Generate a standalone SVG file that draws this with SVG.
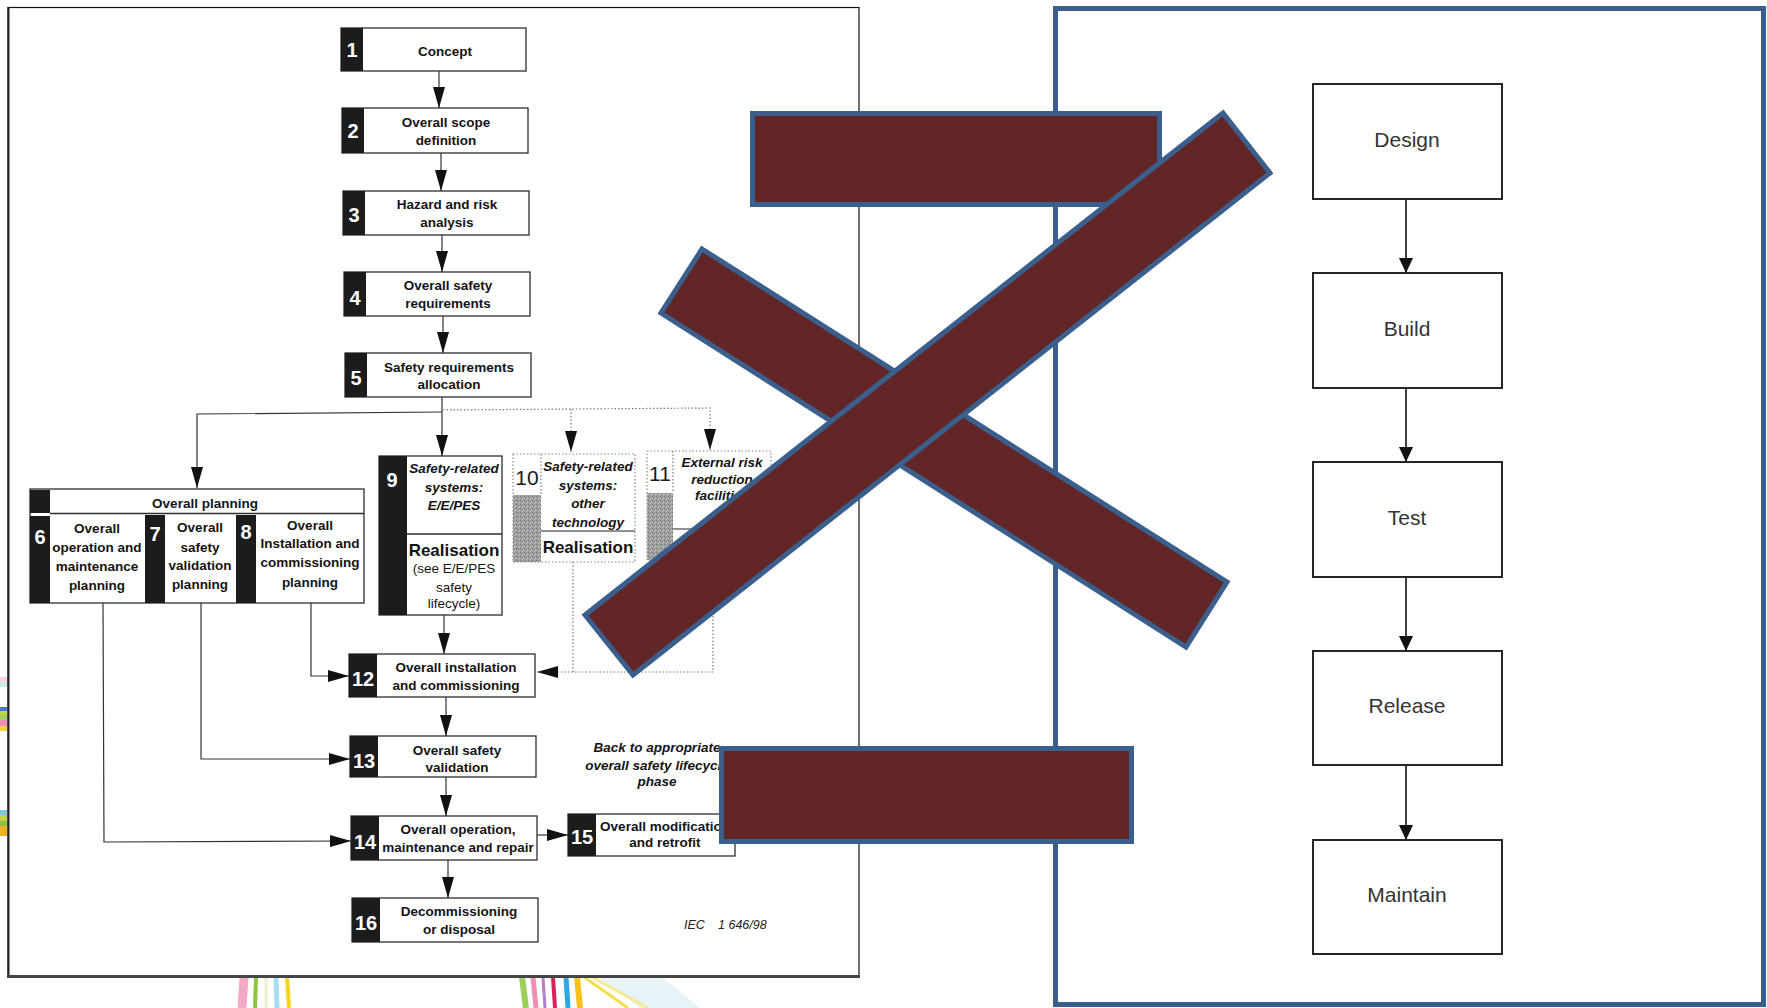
<svg xmlns="http://www.w3.org/2000/svg" width="1767" height="1008" viewBox="0 0 1767 1008">
<style>
.bx{fill:#fff;stroke:#2e2e2e;stroke-width:1.3}
.dbx{fill:#fff;stroke:#888;stroke-width:1.2;stroke-dasharray:1.5 2}
.tab{fill:#1c1c1c}
.t{font-family:'Liberation Sans',Arial,Helvetica,sans-serif;font-size:13.5px;font-weight:bold;fill:#141414;text-anchor:middle}
.it{font-style:italic}
.rg{font-weight:normal}
.big{font-size:17px}
.num{font-family:'Liberation Sans',Arial,sans-serif;font-size:20px;font-weight:bold;fill:#fff;text-anchor:middle}
.numd{font-family:'Liberation Sans',Arial,sans-serif;font-size:21px;fill:#1a1a1a;text-anchor:middle}
.conn{fill:none;stroke:#333;stroke-width:1.2}
.dot{fill:none;stroke:#7a7a7a;stroke-width:1.2;stroke-dasharray:1.5 2}
.rbx{fill:#fff;stroke:#262626;stroke-width:2}
.rt{font-family:'Liberation Sans',Arial,sans-serif;font-size:21px;fill:#333;text-anchor:middle}
.rc{fill:none;stroke:#111;stroke-width:1.6}
.bar{fill:#622626;stroke:#3A5F8D;stroke-width:5}
</style>
<defs>
<marker id="ah" markerUnits="userSpaceOnUse" markerWidth="21" markerHeight="12" refX="21" refY="6" orient="auto"><path d="M0,0 L21,6 L0,12 z" fill="#111"/></marker>
<marker id="ar" markerUnits="userSpaceOnUse" markerWidth="15" markerHeight="14" refX="15" refY="7" orient="auto"><path d="M0,0 L15,7 L0,14 z" fill="#111"/></marker>
<pattern id="grain" width="4" height="4" patternUnits="userSpaceOnUse"><rect width="4" height="4" fill="#a2a2a2"/><rect x="0" y="0" width="1" height="1" fill="#6e6e6e"/><rect x="2" y="1" width="1" height="1" fill="#7a7a7a"/><rect x="1" y="3" width="1" height="1" fill="#888"/><rect x="3" y="2" width="1" height="1" fill="#c8c8c8"/><rect x="2" y="3" width="1" height="1" fill="#bdbdbd"/></pattern>
</defs>
<rect width="1767" height="1008" fill="#fff"/>

<g id="background-ribbons">
<rect x="0" y="677" width="7" height="5" fill="#f6d3e4"/>
<rect x="0" y="682" width="7" height="5" fill="#cdebe6"/>
<rect x="0" y="707" width="7" height="4" fill="#3f7fc8"/>
<rect x="0" y="711" width="7" height="4" fill="#c6d43a"/>
<rect x="0" y="715" width="7" height="5" fill="#9fcf63"/>
<rect x="0" y="720" width="7" height="6" fill="#ee8fb8"/>
<rect x="0" y="726" width="7" height="5" fill="#f3d33b"/>
<rect x="0" y="810" width="7" height="5" fill="#7fc6e8"/>
<rect x="0" y="815" width="7" height="6" fill="#c3d23f"/>
<rect x="0" y="821" width="7" height="5" fill="#8fbf4a"/>
<rect x="0" y="826" width="7" height="10" fill="#f0b21b"/>
<path d="M244,977 L242,1008" stroke="#f2a9c6" stroke-width="9"/>
<path d="M256,977 L255,1008" stroke="#8cc63f" stroke-width="4"/>
<path d="M266,977 L266,1008" stroke="#e4f2d0" stroke-width="3"/>
<path d="M276,977 L277,1008" stroke="#a8dcef" stroke-width="5"/>
<path d="M287,977 L289,1008" stroke="#f4d51a" stroke-width="4"/>
<polygon points="598,977 662,977 700,1008 640,1008" fill="#e8f3f9"/>
<path d="M522,977 L526,1008" stroke="#9ccf5a" stroke-width="6"/>
<path d="M533,977 L536,1008" stroke="#ef8fb5" stroke-width="5"/>
<path d="M543,977 L545,1008" stroke="#b27ec8" stroke-width="3"/>
<path d="M553,977 L555,1008" stroke="#d6245b" stroke-width="4"/>
<path d="M566,977 L568,1008" stroke="#2aa8e0" stroke-width="5"/>
<path d="M577,977 L580,1008" stroke="#f8c21c" stroke-width="6"/>
<path d="M584,977 L628,1008" stroke="#f3df4d" stroke-width="3"/>
<path d="M592,977 L648,1008" stroke="#f6e98a" stroke-width="3"/>
</g>

<g id="left-page">
<rect x="8" y="7.5" width="851" height="968.5" fill="#fff" stroke="#111" stroke-width="1.2"/>
<line x1="8.5" y1="7" x2="8.5" y2="977" stroke="#222" stroke-width="2"/>
<line x1="7" y1="976.5" x2="860" y2="976.5" stroke="#444" stroke-width="3"/>
</g>

<g id="right-panel">
<rect x="1055.5" y="8.5" width="708" height="996" fill="#fff" stroke="#3A5F8D" stroke-width="5"/>
</g>

<g id="connectors">
<line class="conn" x1="439" y1="71" x2="439" y2="108" marker-end="url(#ah)"/>
<line class="conn" x1="441" y1="153" x2="441" y2="191" marker-end="url(#ah)"/>
<line class="conn" x1="442" y1="235" x2="442" y2="272" marker-end="url(#ah)"/>
<line class="conn" x1="443" y1="316" x2="443" y2="353" marker-end="url(#ah)"/>
<line class="conn" x1="442" y1="397" x2="442" y2="456" marker-end="url(#ah)"/>
<path class="conn" d="M442,412 L197,414 L197,488" marker-end="url(#ah)"/>
<line class="conn" x1="444" y1="615" x2="444" y2="654" marker-end="url(#ah)"/>
<path class="conn" d="M311,603 L311,676 L349,676" marker-end="url(#ah)"/>
<line class="conn" x1="446" y1="697" x2="446" y2="736" marker-end="url(#ah)"/>
<path class="conn" d="M201,603 L201,759 L350,759" marker-end="url(#ah)"/>
<line class="conn" x1="446" y1="777" x2="446" y2="816" marker-end="url(#ah)"/>
<path class="conn" d="M103,603 L104,842 L351,841" marker-end="url(#ah)"/>
<line class="conn" x1="537" y1="835" x2="568" y2="835" marker-end="url(#ah)"/>
<line class="conn" x1="448" y1="860" x2="448" y2="898" marker-end="url(#ah)"/>
<path class="dot" d="M443,410 L710,408 L710,450" marker-end="url(#ah)"/>
<line class="dot" x1="571" y1="409" x2="571" y2="452" marker-end="url(#ah)"/>
<line class="dot" x1="573" y1="562" x2="573" y2="672"/>
<path class="dot" d="M713,560 L713,672 L537,672" marker-end="url(#ah)"/>
<line class="rc" x1="1406" y1="199" x2="1406" y2="273" marker-end="url(#ar)"/>
<line class="rc" x1="1406" y1="388" x2="1406" y2="462" marker-end="url(#ar)"/>
<line class="rc" x1="1406" y1="577" x2="1406" y2="651" marker-end="url(#ar)"/>
<line class="rc" x1="1406" y1="765" x2="1406" y2="840" marker-end="url(#ar)"/>
</g>

<g id="n1"><rect class="bx" x="341" y="28" width="185" height="43"/><rect class="tab" x="341" y="28" width="22" height="43"/><text class="num" x="352" y="57">1</text><text class="t" x="445" y="56">Concept</text></g>
<g id="n2"><rect class="bx" x="342" y="108" width="186" height="45"/><rect class="tab" x="342" y="108" width="22" height="45"/><text class="num" x="353" y="138">2</text><text class="t" x="446" y="127">Overall scope</text><text class="t" x="446" y="145">definition</text></g>
<g id="n3"><rect class="bx" x="343" y="191" width="186" height="44"/><rect class="tab" x="343" y="191" width="22" height="44"/><text class="num" x="354" y="222">3</text><text class="t" x="447" y="209">Hazard and risk</text><text class="t" x="447" y="227">analysis</text></g>
<g id="n4"><rect class="bx" x="344" y="272" width="186" height="44"/><rect class="tab" x="344" y="272" width="22" height="44"/><text class="num" x="355" y="305">4</text><text class="t" x="448" y="290">Overall safety</text><text class="t" x="448" y="308">requirements</text></g>
<g id="n5"><rect class="bx" x="345" y="353" width="186" height="44"/><rect class="tab" x="345" y="353" width="22" height="44"/><text class="num" x="356" y="385">5</text><text class="t" x="449" y="372">Safety requirements</text><text class="t" x="449" y="389">allocation</text></g>

<g id="overall-planning">
<rect class="bx" x="30" y="489" width="334" height="114"/>
<rect class="tab" x="30" y="490" width="20" height="23"/>
<line x1="50" y1="513.5" x2="364" y2="513.5" stroke="#2e2e2e" stroke-width="1.3"/>
<text class="t" x="205" y="508">Overall planning</text>
<g id="n6"><rect class="tab" x="30" y="516" width="20" height="87"/><text class="num" x="40" y="544">6</text><text class="t" x="97" y="533">Overall</text><text class="t" x="97" y="552">operation and</text><text class="t" x="97" y="571">maintenance</text><text class="t" x="97" y="590">planning</text></g>
<g id="n7"><rect class="tab" x="145" y="515" width="20" height="88"/><text class="num rg" x="155" y="541">7</text><text class="t" x="200" y="532">Overall</text><text class="t" x="200" y="552">safety</text><text class="t" x="200" y="570">validation</text><text class="t" x="200" y="589">planning</text></g>
<g id="n8"><rect class="tab" x="236" y="515" width="20" height="88"/><text class="num rg" x="246" y="539">8</text><text class="t" x="310" y="530">Overall</text><text class="t" x="310" y="548">Installation and</text><text class="t" x="310" y="567">commissioning</text><text class="t" x="310" y="587">planning</text></g>
</g>

<g id="n9"><rect class="bx" x="379" y="456" width="123" height="159"/><rect class="tab" x="379" y="456" width="28" height="159"/><line x1="407" y1="534" x2="502" y2="534" stroke="#2e2e2e" stroke-width="1.3"/><text class="num" x="392" y="487">9</text><text class="t it" x="454" y="473">Safety-related</text><text class="t it" x="454" y="492">systems:</text><text class="t it" x="454" y="510">E/E/PES</text><text class="t big" x="454" y="556">Realisation</text><text class="t rg" x="454" y="573">(see E/E/PES</text><text class="t rg" x="454" y="592">safety</text><text class="t rg" x="454" y="608">lifecycle)</text></g>

<g id="n10"><rect class="dbx" x="513" y="454" width="122" height="108"/><rect x="513" y="495" width="28" height="67" fill="url(#grain)"/><line class="dot" x1="541" y1="454" x2="541" y2="495"/><line x1="541" y1="531" x2="635" y2="531" stroke="#222" stroke-width="1.2"/><text class="numd" x="527" y="485">10</text><text class="t it" x="588" y="471">Safety-related</text><text class="t it" x="588" y="490">systems:</text><text class="t it" x="588" y="508">other</text><text class="t it" x="588" y="527">technology</text><text class="t big" x="588" y="553">Realisation</text></g>

<g id="n11"><rect class="dbx" x="647" y="451" width="124" height="109"/><rect x="647" y="493" width="26" height="67" fill="url(#grain)"/><line class="dot" x1="673" y1="451" x2="673" y2="493"/><line x1="673" y1="529" x2="771" y2="529" stroke="#222" stroke-width="1.2"/><text class="numd" x="660" y="481">11</text><text class="t it" x="722" y="467">External risk</text><text class="t it" x="722" y="484">reduction</text><text class="t it" x="722" y="500">facilities</text><text class="t big" x="722" y="551">Realisation</text></g>

<g id="n12"><rect class="bx" x="349" y="654" width="186" height="43"/><rect class="tab" x="349" y="654" width="28" height="43"/><text class="num" x="363" y="686">12</text><text class="t" x="456" y="672">Overall installation</text><text class="t" x="456" y="690">and commissioning</text></g>
<g id="n13"><rect class="bx" x="350" y="736" width="186" height="41"/><rect class="tab" x="350" y="736" width="28" height="41"/><text class="num" x="364" y="768">13</text><text class="t" x="457" y="755">Overall safety</text><text class="t" x="457" y="772">validation</text></g>
<g id="n14"><rect class="bx" x="351" y="816" width="186" height="44"/><rect class="tab" x="351" y="816" width="28" height="44"/><text class="num" x="365" y="849">14</text><text class="t" x="458" y="834">Overall operation,</text><text class="t" x="458" y="852">maintenance and repair</text></g>
<g id="n15"><rect class="bx" x="568" y="814" width="167" height="42"/><rect class="tab" x="568" y="814" width="28" height="42"/><text class="num" x="582" y="844">15</text><text class="t" x="665" y="831">Overall modification</text><text class="t" x="665" y="847">and retrofit</text></g>
<g id="n16"><rect class="bx" x="352" y="898" width="186" height="44"/><rect class="tab" x="352" y="898" width="28" height="44"/><text class="num" x="366" y="930">16</text><text class="t" x="459" y="916">Decommissioning</text><text class="t" x="459" y="934">or disposal</text></g>

<g id="notes">
<text class="t it" x="657" y="752" font-size="13">Back to appropriate</text>
<text class="t it" x="657" y="770" font-size="13">overall safety lifecycle</text>
<text class="t it" x="657" y="786" font-size="13">phase</text>
<text x="684" y="929" font-family="'Liberation Sans',Arial,sans-serif" font-size="12.5" font-style="italic" fill="#222">IEC</text>
<text x="718" y="929" font-family="'Liberation Sans',Arial,sans-serif" font-size="12.5" font-style="italic" fill="#222">1 646/98</text>
</g>

<g id="r-design"><rect class="rbx" x="1313" y="84" width="189" height="115"/><text class="rt" x="1407" y="147">Design</text></g>
<g id="r-build"><rect class="rbx" x="1313" y="273" width="189" height="115"/><text class="rt" x="1407" y="336">Build</text></g>
<g id="r-test"><rect class="rbx" x="1313" y="462" width="189" height="115"/><text class="rt" x="1407" y="525">Test</text></g>
<g id="r-release"><rect class="rbx" x="1313" y="651" width="189" height="114"/><text class="rt" x="1407" y="713">Release</text></g>
<g id="r-maintain"><rect class="rbx" x="1313" y="840" width="189" height="114"/><text class="rt" x="1407" y="902">Maintain</text></g>

<g id="overlay">
<rect class="bar" x="752.5" y="113.5" width="407" height="91"/>
<rect class="bar" x="721.5" y="748.5" width="410" height="93"/>
<polygon class="bar" points="702,249 1227,582 1186,647 661,313"/>
<polygon class="bar" points="1223,113 1270,173 633,675 585,615"/>
</g>
</svg>
